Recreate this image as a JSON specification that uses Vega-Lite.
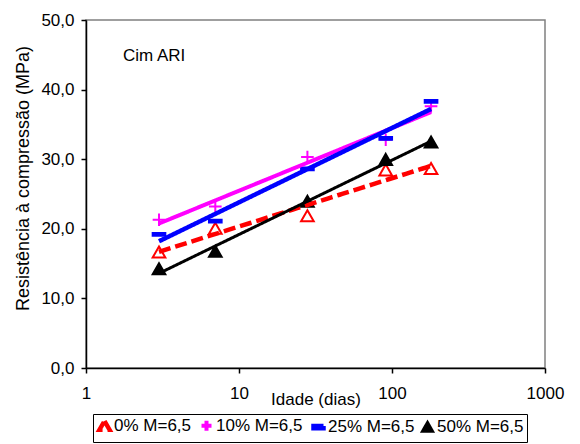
{
  "$schema": "https://vega.github.io/schema/vega-lite/v6.json",
  "autosize": "none",
  "width": 459,
  "height": 348,
  "padding": {"left": 86, "top": 20, "right": 35, "bottom": 76},
  "background": "white",
  "title": {
    "text": "Cim ARI",
    "anchor": "start",
    "frame": "group",
    "orient": "top",
    "offset": 0,
    "dx": 37,
    "dy": 67,
    "baseline": "alphabetic",
    "fontSize": 17,
    "fontWeight": "normal",
    "font": "Liberation Sans",
    "color": "black"
  },
  "data": {
    "values": [
      {"serie": "0% M=6,5", "idade": 3, "resistencia": 16.6},
      {"serie": "0% M=6,5", "idade": 7, "resistencia": 20.0},
      {"serie": "0% M=6,5", "idade": 28, "resistencia": 21.8},
      {"serie": "0% M=6,5", "idade": 91, "resistencia": 28.4},
      {"serie": "0% M=6,5", "idade": 180, "resistencia": 28.6},
      {"serie": "10% M=6,5", "idade": 3, "resistencia": 21.3},
      {"serie": "10% M=6,5", "idade": 7, "resistencia": 23.2},
      {"serie": "10% M=6,5", "idade": 28, "resistencia": 30.3},
      {"serie": "10% M=6,5", "idade": 91, "resistencia": 32.8},
      {"serie": "10% M=6,5", "idade": 180, "resistencia": 37.6},
      {"serie": "25% M=6,5", "idade": 3, "resistencia": 19.2},
      {"serie": "25% M=6,5", "idade": 7, "resistencia": 21.1},
      {"serie": "25% M=6,5", "idade": 28, "resistencia": 28.6},
      {"serie": "25% M=6,5", "idade": 91, "resistencia": 33.0},
      {"serie": "25% M=6,5", "idade": 180, "resistencia": 38.3},
      {"serie": "50% M=6,5", "idade": 3, "resistencia": 14.2},
      {"serie": "50% M=6,5", "idade": 7, "resistencia": 16.7},
      {"serie": "50% M=6,5", "idade": 28, "resistencia": 23.9},
      {"serie": "50% M=6,5", "idade": 91, "resistencia": 29.9},
      {"serie": "50% M=6,5", "idade": 180, "resistencia": 32.4}
    ]
  },
  "layer": [
    {
      "mark": {"type": "point", "opacity": 1, "strokeWidth": 2, "size": 160},
      "encoding": {
        "x": {
          "field": "idade",
          "type": "quantitative",
          "scale": {"type": "log", "domain": [1, 1000]},
          "axis": {
            "values": [1, 10, 100, 1000],
            "format": "d",
            "title": "Idade (dias)",
            "titleY": 36,
            "titleBaseline": "alphabetic",
            "labelPadding": 12
          }
        },
        "y": {
          "field": "resistencia",
          "type": "quantitative",
          "scale": {"domain": [0, 50], "nice": false, "zero": true},
          "axis": {
            "values": [0, 10, 20, 30, 40, 50],
            "labelExpr": "replace(format(datum.value, '.1f'), '.', ',')",
            "title": "Resistência à compressão (MPa)",
            "titleX": -58,
            "titleY": 158,
            "titleAngle": -90,
            "titleBaseline": "alphabetic",
            "titleAlign": "center",
            "titleFontSize": 18,
            "labelPadding": 7
          }
        },
        "shape": {
          "field": "serie",
          "type": "nominal",
          "scale": {
            "domain": ["0% M=6,5", "10% M=6,5", "25% M=6,5", "50% M=6,5"],
            "range": [
              "M0,-0.95L1,0.8H-1Z",
              "M-1,0H1M0,-1V1",
              "M-1,-0.22H1V0.22H-1Z",
              "M0,-0.95L1,0.8H-1Z"
            ]
          },
          "legend": {"title": null}
        },
        "fill": {
          "field": "serie",
          "type": "nominal",
          "scale": {
            "domain": ["0% M=6,5", "10% M=6,5", "25% M=6,5", "50% M=6,5"],
            "range": ["#ffffff", "#ff00ff", "#0000ff", "#000000"]
          },
          "legend": {"title": null}
        },
        "stroke": {
          "field": "serie",
          "type": "nominal",
          "scale": {
            "domain": ["0% M=6,5", "10% M=6,5", "25% M=6,5", "50% M=6,5"],
            "range": ["#ff0000", "#ff00ff", "#0000ff", "#000000"]
          },
          "legend": {"title": null}
        }
      }
    },
    {
      "transform": [
        {"regression": "resistencia", "on": "idade", "groupby": ["serie"], "method": "log"}
      ],
      "mark": {"type": "line", "strokeCap": "butt"},
      "encoding": {
        "x": {"field": "idade", "type": "quantitative"},
        "y": {"field": "resistencia", "type": "quantitative"},
        "detail": {"field": "serie", "type": "nominal"},
        "color": {
          "field": "serie",
          "type": "nominal",
          "scale": {
            "domain": ["0% M=6,5", "10% M=6,5", "25% M=6,5", "50% M=6,5"],
            "range": ["#ff0000", "#ff00ff", "#0000ff", "#000000"]
          },
          "legend": null
        },
        "strokeDash": {
          "field": "serie",
          "type": "nominal",
          "scale": {
            "domain": ["0% M=6,5", "10% M=6,5", "25% M=6,5", "50% M=6,5"],
            "range": [[12, 5], [1, 0], [1, 0], [1, 0]]
          },
          "legend": null
        },
        "strokeWidth": {
          "field": "serie",
          "type": "nominal",
          "scale": {
            "type": "ordinal",
            "domain": ["0% M=6,5", "10% M=6,5", "25% M=6,5", "50% M=6,5"],
            "range": [4.5, 4, 4.5, 3]
          },
          "legend": null
        }
      }
    }
  ],
  "config": {
    "font": "Liberation Sans",
    "view": {"stroke": "#808080", "strokeWidth": 1.5},
    "axis": {
      "grid": false,
      "domainColor": "#000000",
      "domainWidth": 1.5,
      "tickColor": "#000000",
      "tickWidth": 1.5,
      "tickSize": 5,
      "labelFont": "Liberation Sans",
      "labelFontSize": 17,
      "labelColor": "#000000",
      "labelOverlap": false,
      "labelFlush": false,
      "labelBound": false,
      "titleFont": "Liberation Sans",
      "titleFontSize": 17,
      "titleFontWeight": "normal",
      "titleColor": "#000000"
    },
    "legend": {
      "orient": "none",
      "legendX": 7,
      "legendY": 394,
      "direction": "horizontal",
      "columns": 4,
      "strokeColor": "#000000",
      "fillColor": "#ffffff",
      "padding": 3,
      "columnPadding": 1,
      "labelFont": "Liberation Sans",
      "labelFontSize": 17,
      "labelColor": "#000000",
      "labelOffset": 1,
      "symbolSize": 100,
      "symbolStrokeWidth": 2,
      "symbolOpacity": 1
    }
  }
}
